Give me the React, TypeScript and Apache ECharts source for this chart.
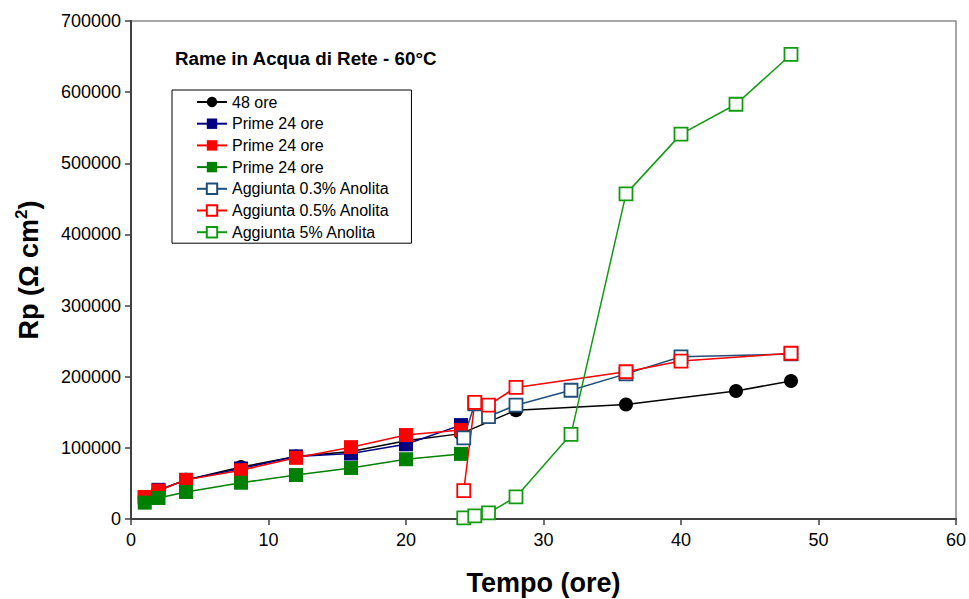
import React, { useEffect, useRef } from "react";
import * as echarts from "echarts";

const titleText = "Rame in Acqua di Rete - 60°C";
const xAxisName = "Tempo (ore)";

const x48 = [1, 2, 4, 8, 12, 16, 20, 24, 28, 36, 44, 48];
const y48 = [30000, 40000, 55000, 73000, 88000, 95000, 110000, 120000, 153000, 161000, 180000, 194000];

const xPrime = [1, 2, 4, 8, 12, 16, 20, 24];
const yPrimeBlue = [30000, 41000, 55000, 71000, 88000, 92000, 105000, 132000];
const yPrimeRed = [31000, 40000, 55000, 68500, 86000, 101000, 118000, 125000];
const yPrimeGreen = [23000, 29500, 38000, 51000, 61800, 71700, 84000, 91500];

const xAgg03 = [24.2, 25, 26, 28, 32, 36, 40, 48];
const yAgg03 = [114000, 162000, 144000, 160000, 181000, 204000, 228000, 232000];
const xAgg05 = [24.2, 25, 26, 28, 36, 40, 48];
const yAgg05 = [40000, 164000, 160000, 185000, 207000, 222000, 233000];
const xAgg5 = [24.2, 25, 26, 28, 32, 36, 40, 44, 48];
const yAgg5 = [1500, 4500, 8500, 31000, 119000, 457000, 541000, 583000, 653000];

const seriesNames = [
  "48 ore",
  "Prime 24 ore",
  "Prime 24 ore ",
  "Prime 24 ore  ",
  "Aggiunta 0.3% Anolita",
  "Aggiunta 0.5% Anolita",
  "Aggiunta 5% Anolita",
];

const pair = (xs: number[], ys: number[]) => xs.map((x, i) => [x, ys[i]]);

export default function App() {
  const ref = useRef<HTMLDivElement>(null);
  useEffect(() => {
    if (!ref.current) return;
    const chart = echarts.init(ref.current, null, { renderer: "svg" });
    const font = "Liberation Sans, Arial, sans-serif";
    const filled = (name: string, xs: number[], ys: number[], color: string, symbol: string, size: number) => ({
      name,
      type: "line",
      data: pair(xs, ys),
      symbol,
      symbolSize: size,
      lineStyle: { color, width: 1.5 },
      itemStyle: { color, borderWidth: 0 },
      emphasis: { disabled: true },
    });
    const open = (name: string, xs: number[], ys: number[], color: string) => ({
      name,
      type: "line",
      data: pair(xs, ys),
      symbol: "rect",
      symbolSize: 13,
      lineStyle: { color, width: 1.5 },
      itemStyle: { color: "#ffffff", borderColor: color, borderWidth: 1.8 },
      emphasis: { disabled: true },
    });
    chart.setOption({
      animation: false,
      textStyle: { fontFamily: font },
      grid: {
        left: 131,
        right: 13,
        top: 21,
        bottom: 80,
        outerBoundsMode: "none",
        containLabel: false,
        show: true,
        borderColor: "#8a8a8a",
        borderWidth: 1.5,
        backgroundColor: "transparent",
      },
      title: {
        text: titleText,
        left: 170,
        top: 44,
        textStyle: { fontFamily: font, fontSize: 18.8, fontWeight: "bold", color: "#000" },
      },
      legend: {
        orient: "vertical",
        left: 172,
        top: 90,
        padding: [4, 22, 3, 24],
        borderColor: "#000",
        borderWidth: 1,
        backgroundColor: "#fff",
        itemWidth: 30,
        itemHeight: 13,
        itemGap: 5.7,
        textStyle: { fontFamily: font, fontSize: 16, lineHeight: 16, color: "#000" },
        data: seriesNames,
        formatter: (n: string) => n.trim(),
      },
      xAxis: {
        type: "value",
        min: 0,
        max: 60,
        interval: 10,
        name: xAxisName,
        nameLocation: "middle",
        nameGap: 50,
        nameTextStyle: { fontFamily: font, fontSize: 27, fontWeight: "bold", color: "#000" },
        axisLine: { show: true, lineStyle: { color: "#404040", width: 2 } },
        axisTick: { show: true, length: 6, lineStyle: { color: "#404040", width: 1.5 } },
        axisLabel: { fontFamily: font, fontSize: 18, color: "#000", margin: 12 },
        splitLine: { show: false },
      },
      yAxis: {
        type: "value",
        min: 0,
        max: 700000,
        interval: 100000,
        name: "{a|Rp (Ω cm}{s|2}{a|)}",
        nameLocation: "middle",
        nameRotate: 90,
        nameGap: 86,
        nameTextStyle: {
          fontFamily: font,
          fontSize: 27,
          fontWeight: "bold",
          color: "#000",
          rich: {
            a: { fontFamily: font, fontSize: 27, fontWeight: "bold", color: "#000", lineHeight: 32 },
            s: {
              fontFamily: font,
              fontSize: 17,
              fontWeight: "bold",
              color: "#000",
              verticalAlign: "top",
              lineHeight: 32,
              padding: [0, 0, 12, 0],
            },
          },
        },
        axisLine: { show: true, lineStyle: { color: "#404040", width: 2 } },
        axisTick: { show: true, length: 6, lineStyle: { color: "#404040", width: 1.5 } },
        axisLabel: {
          fontFamily: font,
          fontSize: 18,
          color: "#000",
          margin: 10,
          formatter: (v: number) => String(v),
        },
        splitLine: { show: false },
      },
      series: [
        filled(seriesNames[0], x48, y48, "#000000", "circle", 14),
        filled(seriesNames[1], xPrime, yPrimeBlue, "#000080", "rect", 14),
        filled(seriesNames[2], xPrime, yPrimeRed, "#ff0000", "rect", 14),
        filled(seriesNames[3], xPrime, yPrimeGreen, "#008000", "rect", 14),
        open(seriesNames[4], xAgg03, yAgg03, "#1f4e79"),
        open(seriesNames[5], xAgg05, yAgg05, "#ff0000"),
        open(seriesNames[6], xAgg5, yAgg5, "#129a12"),
      ],
    });
    return () => chart.dispose();
  }, []);
  return (
    <div
      ref={ref}
      style={{ position: "fixed", left: 0, top: 0, width: 969, height: 599, background: "#fff" }}
    />
  );
}
